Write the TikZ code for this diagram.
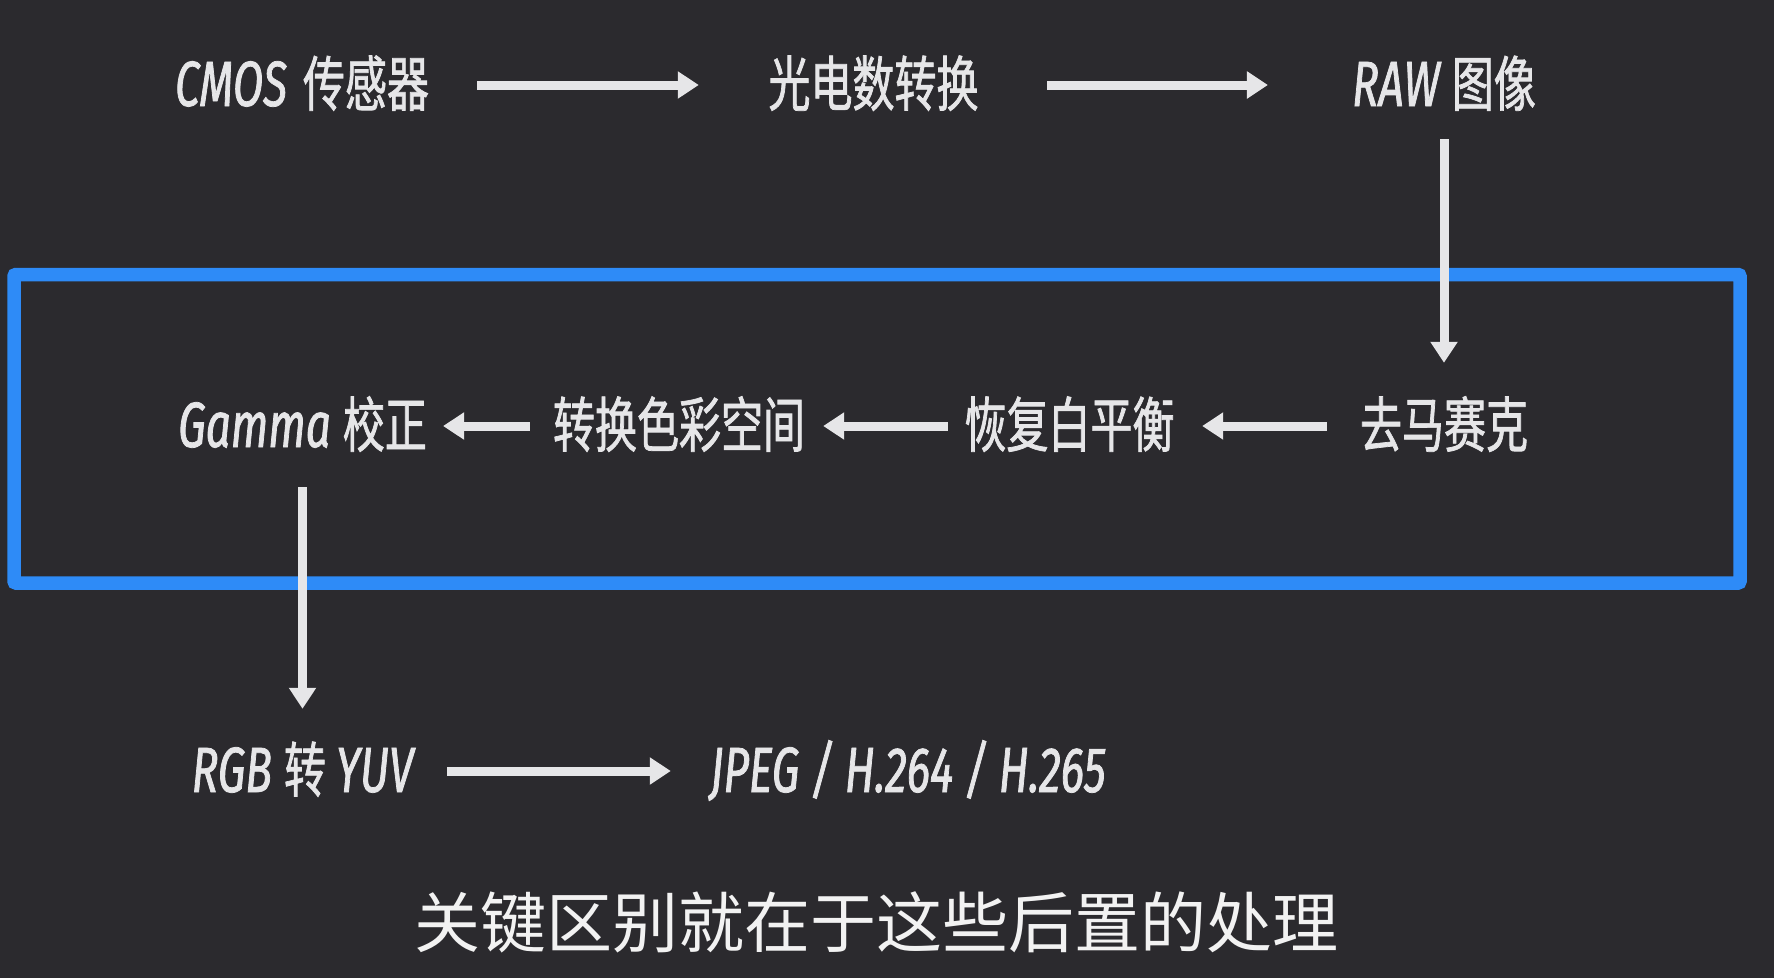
\documentclass[tikz,border=0pt]{standalone}
\usepackage{fontspec}
\usetikzlibrary{arrows.meta,positioning}
\newfontfamily\latfont{Fira Sans}[FakeStretch=0.69,FakeBold=1.2]
\newfontfamily\cjkfont{Noto Sans CJK SC}[FakeStretch=0.7,FakeBold=1.2]
\newfontfamily\capfont{Noto Sans CJK SC}
\definecolor{Slate}{HTML}{2B2A2E}
\definecolor{Chalk}{HTML}{E6E6E8}
\definecolor{Snow}{HTML}{F2F2F2}
\definecolor{Azure}{HTML}{2E8BF7}
\newcommand{\la}[1]{{\fontsize{64}{70}\selectfont\latfont\itshape #1}}
\newcommand{\zh}[1]{{\fontsize{60}{66}\selectfont\cjkfont #1}}

\begin{document}
\begin{tikzpicture}[x=1pt,y=-1pt,
stage/.style={text=Chalk,anchor=base,inner sep=0pt,text height=48pt,text depth=6pt,align=center},
arr/.style={-{Triangle[width=26pt,length=21pt]},line width=9pt,Chalk},
frame/.style={draw=Azure,line width=13.5pt,rounded corners=2pt},
note/.style={text=Snow,anchor=base,inner sep=0pt,font=\fontsize{66}{72}\selectfont\capfont}]
\fill[Slate] (0,0) rectangle (1774,978);
\draw[frame] (14,274.5) rectangle (1740,583);
% top row
\node[stage,minimum width=250pt] (cmos) at (302,106) {\la{CMOS}\hspace{16pt}\zh{传感器}};
\node[stage,minimum width=213pt] (photo) at (873.5,106) {\zh{光电数转换}};
\node[stage,minimum width=182pt] (raw) at (1444,106) {\la{RAW}\hspace{12pt}\zh{图像}};
% middle row, inside the frame
\node[stage,minimum width=163pt] (demosaic) at (1444,447) {\zh{去马赛克}};
\node[stage,minimum width=215pt] (wb) at (1069.5,447) {\zh{恢复白平衡}};
\node[stage,minimum width=256pt] (csc) at (679,447) {\zh{转换色彩空间}};
\node[stage,minimum width=241pt] (gamma) at (302.5,447) {\la{Gamma}\hspace{12pt}\zh{校正}};
% bottom row
\node[stage,minimum width=220pt] (yuv) at (302.5,792) {\la{RGB}\hspace{12pt}\zh{转}\hspace{10pt}\la{YUV}};
\node[stage,minimum width=404pt] (codec) at (908,792) {\la{JPEG / H.264 / H.265}};
\node[note] (caption) at (876,947) {关键区别就在于这些后置的处理};
\foreach \u/\v/\s/\t in {cmos/photo/48pt/68pt,photo/raw/67pt/84pt,raw/demosaic/27pt/36pt,
  demosaic/wb/33pt/25pt,wb/csc/14pt/16pt,csc/gamma/21pt/16pt,gamma/yuv/34pt/35pt,yuv/codec/34pt/35pt}
  {\draw[arr,shorten <=\s,shorten >=\t] (\u)--(\v);}
\end{tikzpicture}
\end{document}
